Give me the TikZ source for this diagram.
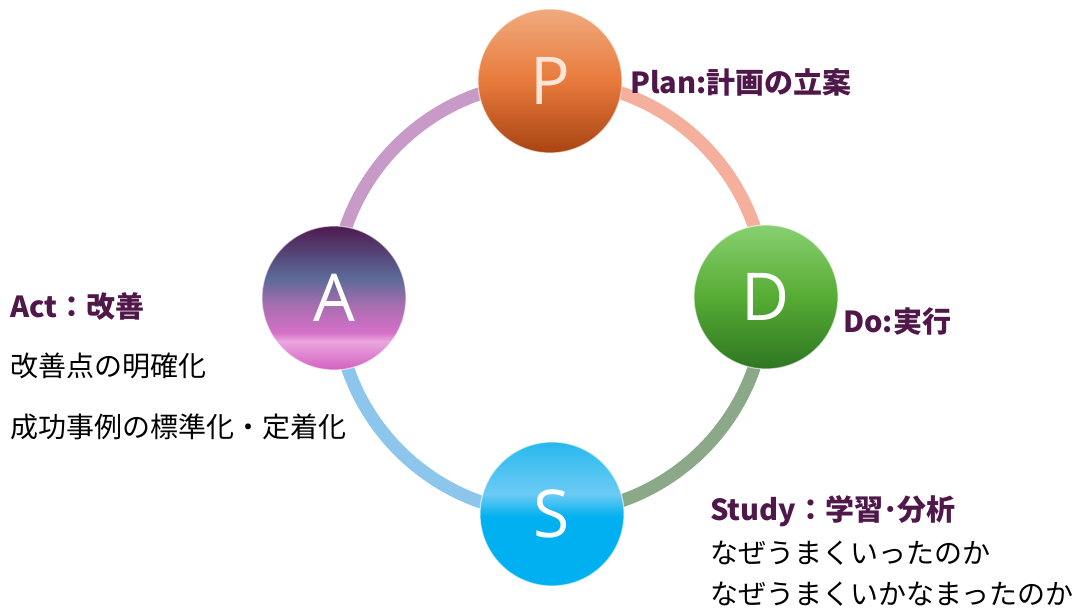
\documentclass[tikz,border=0pt]{standalone}
\usepackage{fontspec}
\newfontfamily\jp{Noto Sans CJK JP}
\newfontfamily\lat{Open Sans}
\usetikzlibrary{backgrounds}
\definecolor{labpurple}{RGB}{80,24,74}
\definecolor{arcP}{RGB}{244,176,156}
\definecolor{arcD}{RGB}{139,168,136}
\definecolor{arcS}{RGB}{140,198,236}
\definecolor{arcA}{RGB}{200,154,200}
\definecolor{ptop}{RGB}{240,170,125}
\definecolor{pmid}{RGB}{232,122,60}
\definecolor{pbot}{RGB}{168,68,18}
\definecolor{dtop}{RGB}{136,208,112}
\definecolor{dmid}{RGB}{86,172,52}
\definecolor{dbot}{RGB}{46,118,34}
\definecolor{stop}{RGB}{40,184,238}
\definecolor{sband}{RGB}{108,203,244}
\definecolor{sbot}{RGB}{0,176,240}
\definecolor{atop}{RGB}{78,26,80}
\definecolor{ablue}{RGB}{92,106,152}
\definecolor{amid}{RGB}{170,110,176}
\definecolor{apink}{RGB}{214,112,200}
\definecolor{aband}{RGB}{234,166,222}
\definecolor{abot}{RGB}{210,96,192}
\pgfdeclareverticalshading{pshade}{100bp}{color(0bp)=(pbot); color(25bp)=(pbot); color(50bp)=(pmid); color(75bp)=(ptop); color(100bp)=(ptop)}
\pgfdeclareverticalshading{dshade}{100bp}{color(0bp)=(dbot); color(25bp)=(dbot); color(50bp)=(dmid); color(75bp)=(dtop); color(100bp)=(dtop)}
\pgfdeclareverticalshading{sshade}{100bp}{color(0bp)=(sbot); color(25bp)=(sbot); color(49bp)=(sbot); color(57bp)=(sband); color(75bp)=(stop); color(100bp)=(stop)}
\pgfdeclareverticalshading{ashade}{100bp}{color(0bp)=(abot); color(25bp)=(abot); color(35bp)=(aband); color(38bp)=(apink); color(47bp)=(amid); color(57bp)=(ablue); color(75bp)=(atop); color(100bp)=(atop)}
\tikzset{
  phase/.style={circle, minimum size=144pt, inner sep=0pt, shade, draw=white, draw opacity=0.6, line width=1.2pt, text=white, font=\lat\fontsize{66}{70}\selectfont},
  ring/.style={line width=13pt},
  head/.style={anchor=west, inner sep=0pt, text=labpurple, font=\jp\bfseries\fontsize{29}{34}\selectfont},
  body/.style={anchor=west, inner sep=0pt, text=black, font=\jp\fontsize{28}{34}\selectfont}
}
\begin{document}
\begin{tikzpicture}[x=1pt,y=1pt]
\useasboundingbox (0,0) rectangle (1080,612);
\node[phase, shading=pshade, text={rgb,255:red,252;green,228;blue,214}] (P) at (550,531) {P};
\node[phase, shading=dshade] (D) at (766,315) {D};
\node[phase, shading=sshade] (S) at (552,98) {S};
\node[phase, shading=ashade] (A) at (334,314) {A};
\begin{pgfonlayer}{background}
\draw[ring, arcP] (P.center) arc[start angle=90, end angle=0, radius=216];
\draw[ring, arcD] (D.center) arc[start angle=0, end angle=-90, radius=216];
\draw[ring, arcS] (S.center) arc[start angle=-90, end angle=-180, radius=216];
\draw[ring, arcA] (A.center) arc[start angle=180, end angle=90, radius=216];
\end{pgfonlayer}
\node[head] (tP) at (630,530) {Plan:計画の立案};
\node[head] (tD) at (843,290) {Do:実行};
\node[head] (tA) at (10,305) {Act：改善};
\node[body] (tA1) at (10,246) {改善点の明確化};
\node[body] (tA2) at (10,185) {成功事例の標準化・定着化};
\node[head] (tS) at (710,101) {Study：学習･分析};
\node[body] (tS1) at (710,59) {なぜうまくいったのか};
\node[body] (tS2) at (710,18) {なぜうまくいかなまったのか};
\end{tikzpicture}
\end{document}
